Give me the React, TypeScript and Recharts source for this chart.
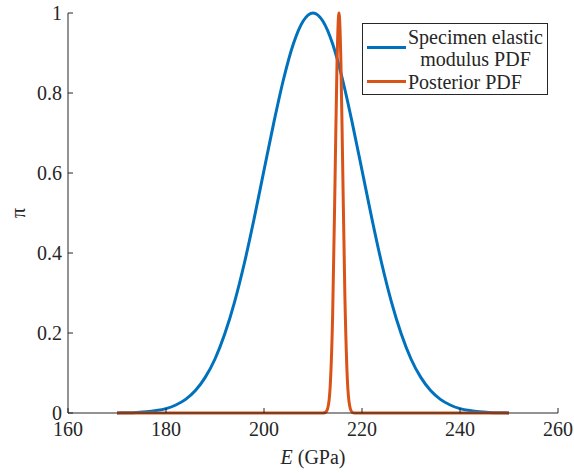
import { Label, Legend, Line, LineChart, XAxis, YAxis } from "recharts";

// specimen elastic modulus PDF (blue)
const specE = [
  170, 172, 174, 176, 178, 180, 182, 184, 186, 188, 190, 192, 194, 196, 198,
  200, 202, 204, 206, 208, 210, 212, 214, 216, 218, 220, 222, 224, 226, 228,
  230, 232, 234, 236, 238, 240, 242, 244, 246, 248, 250,
];
const specP = [
  0.0003, 0.0007, 0.0015, 0.003, 0.006, 0.011, 0.02, 0.034, 0.056, 0.089,
  0.135, 0.198, 0.278, 0.375, 0.487, 0.607, 0.726, 0.835, 0.923, 0.98, 1,
  0.98, 0.923, 0.835, 0.726, 0.607, 0.487, 0.375, 0.278, 0.198, 0.135, 0.089,
  0.056, 0.034, 0.02, 0.011, 0.006, 0.003, 0.0015, 0.0007, 0.0003,
];

// posterior PDF (orange)
const postE = [
  170, 200, 212, 212.5, 213, 213.5, 214, 214.5, 214.9, 215.3, 215.7, 216,
  216.5, 217, 217.5, 218, 218.5, 230, 250,
];
const postP = [
  0, 0, 0.0001, 0.0013, 0.0116, 0.065, 0.24, 0.583, 0.874, 1, 0.874, 0.662,
  0.297, 0.087, 0.017, 0.0021, 0.0002, 0, 0,
];

const xTicks = [160, 180, 200, 220, 240, 260];
const yTicks = [0, 0.2, 0.4, 0.6, 0.8, 1];

const specData = specE.map((x, i) => ({ x, p: specP[i] }));
const postData = postE.map((x, i) => ({ x, p: postP[i] }));

const font = "Liberation Serif";
const ink = "#262626";
const tickStyle = { fill: ink, fontSize: 20, fontFamily: font };

const XLabel = (props: any) => {
  const { x, y, width } = props.viewBox;
  return (
    <text
      x={x + width / 2}
      y={y + 51}
      textAnchor="middle"
      fill={ink}
      fontSize={20}
      fontFamily={font}
    >
      <tspan fontStyle="italic">E</tspan>
      <tspan>{" (GPa)"}</tspan>
    </text>
  );
};

const YLabel = () => (
  <text
    x={20}
    y={213}
    textAnchor="middle"
    dominantBaseline="middle"
    transform="rotate(-90 20 213)"
    fill={ink}
    fontSize={20}
    fontFamily={font}
  >
    π
  </text>
);

const LegendBox = () => (
  <div
    style={{
      border: `1px solid ${ink}`,
      background: "#fff",
      width: 184,
      height: 69,
      boxSizing: "content-box",
      fontFamily: font,
      fontSize: 20,
      color: ink,
      paddingTop: 1,
    }}
  >
    <div style={{ display: "flex", alignItems: "center", height: 45 }}>
      <div
        style={{
          width: 39,
          height: 3,
          background: "#0072BD",
          marginLeft: 4,
          marginRight: 2,
        }}
      />
      <div style={{ lineHeight: "22px", textAlign: "center", whiteSpace: "nowrap" }}>
        Specimen elastic
        <br />
        modulus PDF
      </div>
    </div>
    <div style={{ display: "flex", alignItems: "center", height: 23 }}>
      <div
        style={{
          width: 39,
          height: 3,
          background: "#D95319",
          marginLeft: 4,
          marginRight: 2,
        }}
      />
      <div style={{ lineHeight: "22px", whiteSpace: "nowrap" }}>Posterior PDF</div>
    </div>
  </div>
);

export default function App() {
  return (
    <div style={{ position: "absolute", left: 0, top: 0, background: "#fff" }}>
      <LineChart
        width={574}
        height={473}
        margin={{ top: 13, right: 16, left: 0, bottom: 0 }}
      >
        <XAxis
          dataKey="x"
          type="number"
          domain={[160, 260]}
          ticks={xTicks}
          height={60}
          stroke={ink}
          tickSize={-5}
          tickMargin={14}
          tick={tickStyle}
        >
          <Label content={XLabel} />
        </XAxis>
        <XAxis
          xAxisId="top"
          orientation="top"
          type="number"
          domain={[160, 260]}
          ticks={xTicks}
          height={0}
          stroke={ink}
          tickSize={-5}
          tickFormatter={() => ""}
        />
        <YAxis
          type="number"
          domain={[0, 1]}
          ticks={yTicks}
          width={68}
          stroke={ink}
          tickSize={-5}
          tickMargin={11}
          tick={tickStyle}
        >
          <Label content={YLabel} />
        </YAxis>
        <YAxis
          yAxisId="right"
          orientation="right"
          type="number"
          domain={[0, 1]}
          ticks={yTicks}
          width={0}
          stroke={ink}
          tickSize={-5}
          tickFormatter={() => ""}
        />
        <Legend
          verticalAlign="middle"
          layout="horizontal"
          content={LegendBox}
          wrapperStyle={{ position: "absolute", left: 362, top: 23, width: 186 }}
        />
        <Line
          data={specData}
          dataKey="p"
          type="monotone"
          stroke="#0072BD"
          strokeWidth={3}
          dot={false}
          isAnimationActive={false}
        />
        <Line
          data={postData}
          dataKey="p"
          type="monotone"
          stroke="#D95319"
          strokeWidth={3}
          dot={false}
          isAnimationActive={false}
        />
      </LineChart>
    </div>
  );
}
